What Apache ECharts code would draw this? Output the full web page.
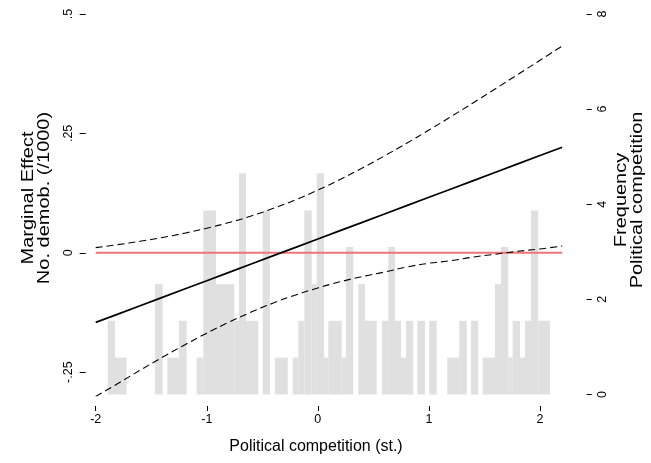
<!DOCTYPE html>
<html>
<head>
<meta charset="utf-8">
<script src="https://cdn.jsdelivr.net/npm/echarts@6/dist/echarts.min.js"></script>
<style>
  html, body { margin: 0; padding: 0; background: #fff; }
  #chart { width: 651px; height: 463px; }
</style>
</head>
<body>
<div id="chart"></div>
<script>
// Marginal effect of political competition (st.) on demobilisation, with 95% bounds
const xGrid = [-2.0, -1.8, -1.6, -1.4, -1.2, -1.0, -0.8, -0.6, -0.4, -0.2, 0.0,
               0.2, 0.4, 0.6, 0.8, 1.0, 1.2, 1.4, 1.6, 1.8, 2.0, 2.2];
const marginalEffect = [-0.1459, -0.1285, -0.1110, -0.0935, -0.0760, -0.0586, -0.0411, -0.0236, -0.0061, 0.0113, 0.0288,
                        0.0463, 0.0637, 0.0812, 0.0987, 0.1162, 0.1336, 0.1511, 0.1686, 0.1861, 0.2035, 0.2210];
const upperBound = [0.0107, 0.0170, 0.0240, 0.0320, 0.0410, 0.0513, 0.0632, 0.0770, 0.0930, 0.1110, 0.1313,
                    0.1535, 0.1774, 0.2028, 0.2294, 0.2569, 0.2852, 0.3142, 0.3436, 0.3734, 0.4030, 0.4330];
const lowerBound = [-0.3010, -0.2739, -0.2460, -0.2190, -0.1930, -0.1684, -0.1454, -0.1243, -0.1052, -0.0884, -0.0737,
                    -0.0609, -0.0499, -0.0404, -0.0300, -0.0220, -0.0165, -0.0090, -0.0030, 0.0030, 0.0080, 0.0140];

// Histogram of political competition: bin edges and frequency
const binLeft  = [-1.892, -1.826, -1.466, -1.355, -1.250, -1.091, -1.031, -0.917, -0.752, -0.710,
                  -0.647, -0.496, -0.386, -0.226, -0.176, -0.122, -0.055, -0.010, 0.055, 0.094,
                  0.215, 0.253, 0.364, 0.424, 0.578, 0.634, 0.695, 0.749, 0.794, 0.895,
                  1.003, 1.165, 1.273, 1.379, 1.484, 1.595, 1.649, 1.715, 1.754, 1.820,
                  1.865, 1.919, 1.985];
const binRight = [-1.826, -1.721, -1.397, -1.250, -1.181, -1.031, -0.917, -0.752, -0.710, -0.647,
                  -0.536, -0.431, -0.271, -0.176, -0.122, -0.055, -0.010, 0.055, 0.094, 0.215,
                  0.253, 0.319, 0.424, 0.530, 0.634, 0.695, 0.749, 0.794, 0.859, 0.965,
                  1.070, 1.273, 1.340, 1.444, 1.595, 1.649, 1.715, 1.754, 1.820, 1.865,
                  1.919, 1.985, 2.090];
const binFreq  = [1.55, 0.775, 2.32, 0.775, 1.55, 0.775, 3.87, 2.32, 1.55, 4.65,
                  1.55, 3.87, 0.775, 0.775, 1.55, 3.87, 2.32, 4.65, 0.775, 1.55,
                  0.775, 3.10, 2.32, 1.55, 1.55, 3.10, 1.55, 0.775, 1.55, 1.55,
                  1.55, 0.775, 1.55, 1.55, 0.775, 2.32, 3.10, 0.775, 1.55, 0.775,
                  1.55, 3.87, 1.55];

// Tick values
const xTicks = [-2, -1, 0, 1, 2];
const leftTicks = [-0.25, 0, 0.25, 0.5];
const rightTicks = [0, 2, 4, 6, 8];

const FONT = '"Liberation Sans", Arial, Helvetica, sans-serif';

function pairs(xs, ys) { return xs.map((x, i) => [x, ys[i]]); }
function stataNum(v) { return String(v).replace(/^(-?)0\./, '$1.'); }

const histData = binLeft.map((l, i) => [l, binRight[i], binFreq[i]]);

const chart = echarts.init(document.getElementById('chart'), null, { renderer: 'canvas' });

chart.setOption({
  animation: false,
  backgroundColor: '#ffffff',
  grid: { left: 95.7, top: 14, width: 466.5, height: 382, containLabel: false },
  xAxis: {
    type: 'value', min: -2, max: 2.2, offset: 10, position: 'bottom',
    axisLine: { show: false, onZero: false },
    axisTick: { show: true, length: 5, customValues: xTicks, lineStyle: { color: '#000', width: 1 } },
    axisLabel: { customValues: xTicks, margin: 7, fontSize: 12.5, color: '#000', fontFamily: FONT },
    splitLine: { show: false }
  },
  yAxis: [
    {
      type: 'value', min: -0.3, max: 0.5, position: 'left', offset: 10,
      axisLine: { show: false, onZero: false },
      axisTick: { show: true, length: 6, customValues: leftTicks, lineStyle: { color: '#000', width: 1 } },
      axisLabel: { customValues: leftTicks, rotate: 90, margin: 11, fontSize: 12.5, color: '#000',
                   fontFamily: FONT, formatter: v => stataNum(v) },
      splitLine: { show: false }
    },
    {
      type: 'value', min: -0.0315, max: 8, position: 'right', offset: 24.5,
      axisLine: { show: false, onZero: false },
      axisTick: { show: true, length: 5, customValues: rightTicks, lineStyle: { color: '#000', width: 1 } },
      axisLabel: { customValues: rightTicks, rotate: 90, margin: 9, fontSize: 12.5, color: '#000', fontFamily: FONT },
      splitLine: { show: false }
    }
  ],
  series: [
    {
      name: 'Frequency', type: 'custom', xAxisIndex: 0, yAxisIndex: 1,
      data: histData, encode: { x: [0, 1], y: 2 },
      renderItem(params, api) {
        const p0 = api.coord([api.value(0), api.value(2)]);
        const p1 = api.coord([api.value(1), 0]);
        return {
          type: 'rect',
          shape: { x: p0[0], y: p0[1], width: p1[0] - p0[0], height: p1[1] - p0[1] },
          style: { fill: '#e0e0e0' }
        };
      },
      z: 1
    },
    {
      name: 'Zero', type: 'line', yAxisIndex: 0, symbol: 'none',
      data: [[xGrid[0], 0], [xGrid[xGrid.length - 1], 0]],
      lineStyle: { color: '#f07474', width: 1.8 }, z: 2
    },
    {
      name: 'Upper', type: 'line', yAxisIndex: 0, symbol: 'none', smooth: true,
      data: pairs(xGrid, upperBound),
      lineStyle: { color: '#000', width: 1.1, type: [7, 4] }, z: 3
    },
    {
      name: 'Lower', type: 'line', yAxisIndex: 0, symbol: 'none', smooth: true,
      data: pairs(xGrid, lowerBound),
      lineStyle: { color: '#000', width: 1.1, type: [7, 4] }, z: 3
    },
    {
      name: 'Marginal Effect', type: 'line', yAxisIndex: 0, symbol: 'none',
      data: pairs(xGrid, marginalEffect),
      lineStyle: { color: '#000', width: 1.7 }, z: 4
    }
  ],
  graphic: [
    {
      type: 'text', x: 36.5, y: 198, rotation: Math.PI / 2, scaleX: 1.25,
      style: { text: 'Marginal Effect\nNo. demob. (/1000)', fontSize: 16, fontFamily: FONT, fill: '#000',
               align: 'center', verticalAlign: 'middle', textAlign: 'center', textVerticalAlign: 'middle', lineHeight: 15.5 }
    },
    {
      type: 'text', x: 629.5, y: 200, rotation: Math.PI / 2, scaleX: 1.25,
      style: { text: 'Frequency\nPolitical competition', fontSize: 16, fontFamily: FONT, fill: '#000',
               align: 'center', verticalAlign: 'middle', textAlign: 'center', textVerticalAlign: 'middle', lineHeight: 15.5 }
    },
    {
      type: 'text', x: 316, y: 447,
      style: { text: 'Political competition (st.)', fontSize: 16, fontFamily: FONT, fill: '#000',
               align: 'center', verticalAlign: 'middle', textAlign: 'center', textVerticalAlign: 'middle' }
    }
  ]
});
</script>
</body>
</html>
